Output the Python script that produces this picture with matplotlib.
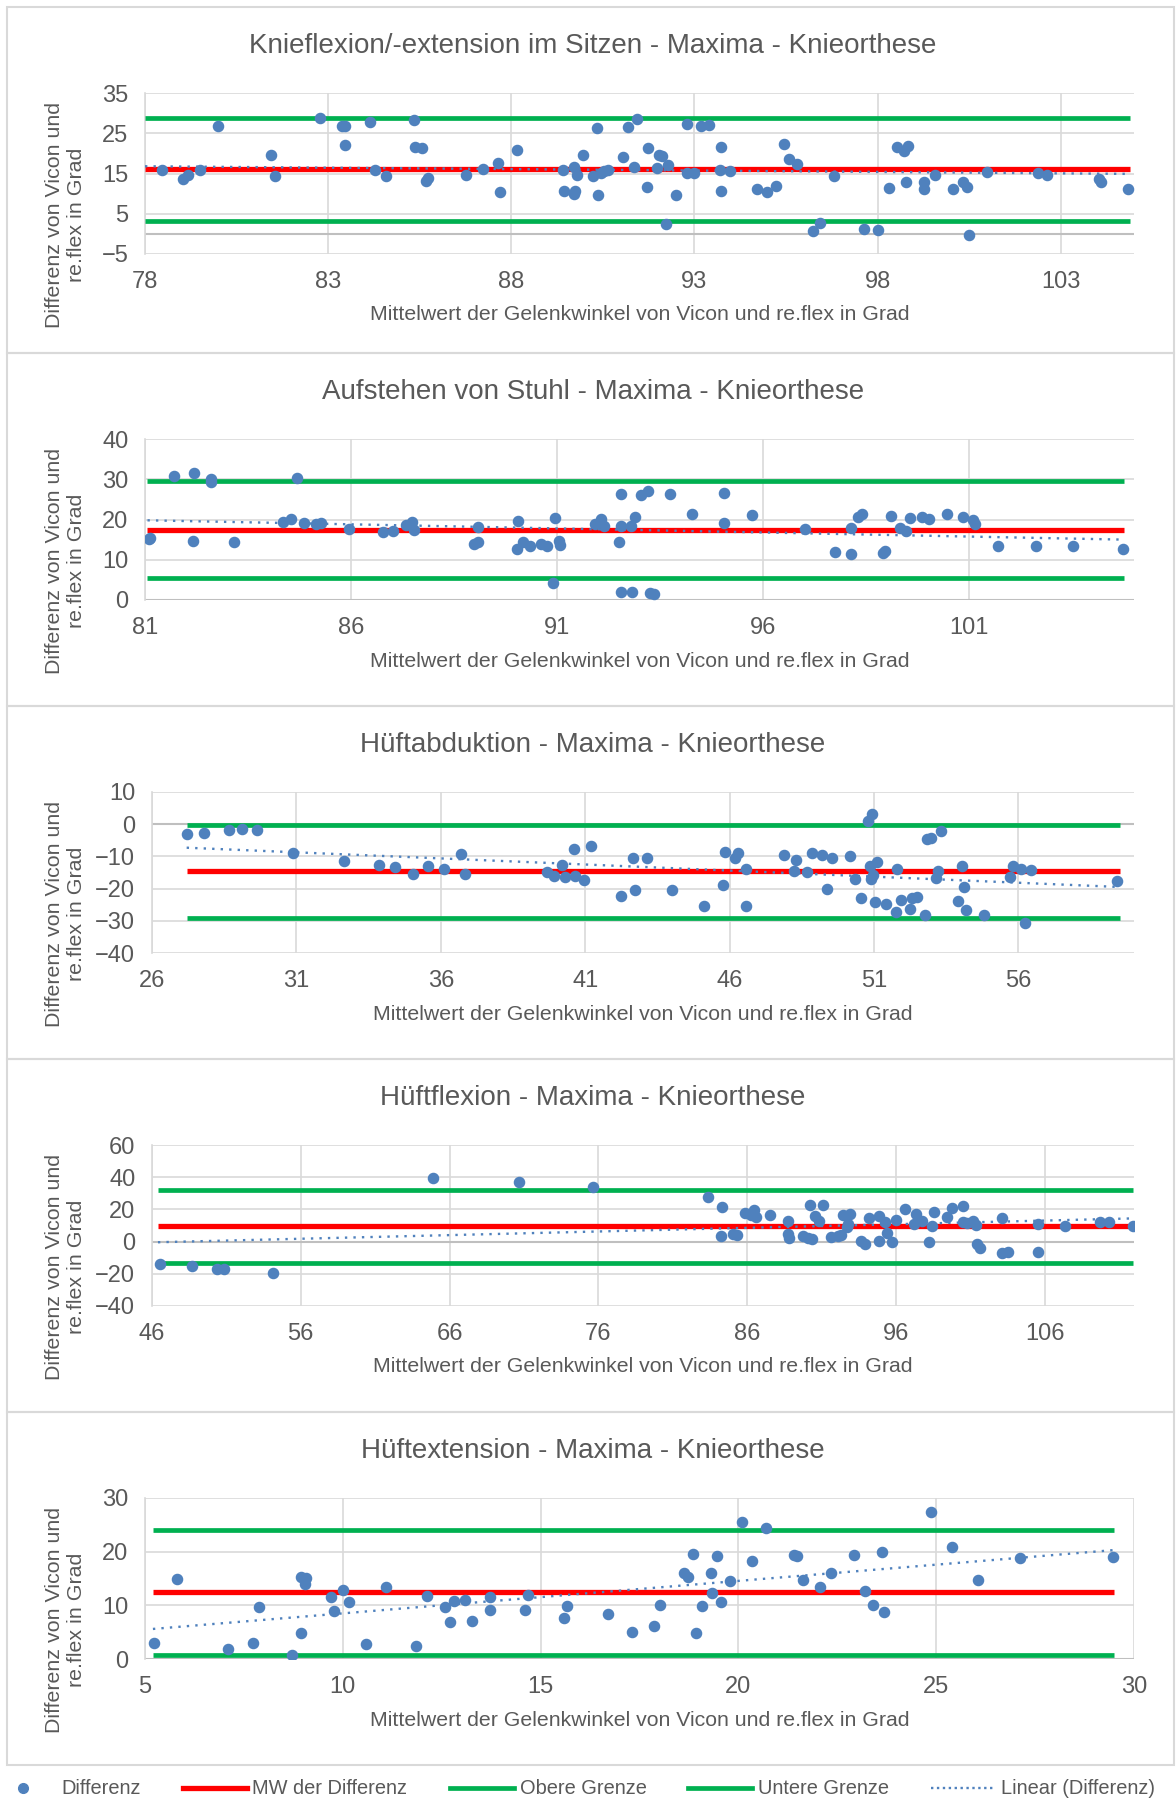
import numpy as np
import matplotlib
matplotlib.use('Agg')
import matplotlib.pyplot as plt
from matplotlib.lines import Line2D
from matplotlib.patches import Rectangle

plt.rcParams['font.family'] = ['Liberation Sans', 'DejaVu Sans']

# --- Daten ---
# Knieflexion/-extension im Sitzen
knie_x = [78.47, 79.03, 79.17, 79.50, 79.99, 81.44, 81.55, 82.77, 83.38, 83.47,
          83.45, 84.14, 84.29, 84.59, 85.34, 85.38, 85.55, 85.67, 85.73, 86.76,
          87.23, 87.63, 87.70, 88.16, 89.42, 89.43, 89.70, 89.73, 89.71, 89.80,
          89.96, 90.24, 90.34, 90.36, 90.45, 90.53, 90.64, 91.06, 91.18, 91.34,
          91.44, 91.71, 91.74, 91.99, 92.02, 92.11, 92.23, 92.27, 92.51, 92.79,
          92.81, 92.98, 93.19, 93.40, 93.70, 93.73, 93.73, 93.96, 94.71, 94.99,
          95.22, 95.45, 95.59, 95.80, 96.25, 96.44, 96.81, 97.62, 98.02, 98.31,
          98.52, 98.73, 98.84, 98.77, 99.26, 99.26, 99.56, 100.06, 100.34, 100.45,
          100.50, 100.99, 102.39, 102.63, 104.05, 104.10, 104.84]
knie_y = [15.8, 13.6, 14.6, 15.8, 26.8, 19.5, 14.5, 28.7, 26.7, 26.75,
          22.0, 27.75, 15.9, 14.5, 28.25, 21.7, 21.4, 13.2, 13.9, 14.75,
          16.2, 17.6, 10.5, 20.75, 15.75, 10.75, 16.7, 10.6, 9.8, 14.75,
          19.7, 14.4, 26.25, 9.6, 15.1, 15.5, 15.8, 19.0, 26.5, 16.6,
          28.6, 11.6, 21.25, 16.25, 19.7, 19.25, 2.5, 17.1, 9.7, 27.3,
          15.1, 15.1, 26.7, 27.1, 15.75, 21.5, 10.6, 15.6, 11.25, 10.4,
          12.0, 22.3, 18.5, 17.3, 0.67, 2.6, 14.3, 1.3, 1.0, 11.4,
          21.6, 20.5, 21.9, 13.0, 12.8, 11.2, 14.7, 11.1, 13.0, 11.7,
          -0.2, 15.25, 15.1, 14.75, 13.75, 13.0, 11.1]

# Aufstehen von Stuhl
stuhl_x = [81.09, 81.12, 81.70, 82.20, 82.17, 82.59, 82.59, 83.16, 84.36, 84.54,
           84.70, 84.87, 85.16, 85.26, 85.94, 86.78, 87.01, 87.34, 87.48, 87.53,
           88.99, 89.07, 89.07, 90.03, 90.04, 90.17, 90.34, 90.62, 90.76, 90.91,
           90.95, 91.04, 91.07, 91.92, 92.06, 92.13, 92.50, 92.55, 92.56, 92.56,
           92.81, 92.80, 92.90, 93.04, 93.20, 93.25, 93.36, 93.74, 94.27, 95.05,
           95.06, 95.74, 97.02, 97.75, 98.14, 98.14, 98.30, 98.41, 98.90, 98.95,
           99.11, 99.32, 99.46, 99.57, 99.86, 100.02, 100.46, 100.84, 101.09, 101.14,
           101.70, 102.62, 103.52, 104.73]
stuhl_y = [15.1, 15.5, 30.9, 31.6, 14.7, 30.0, 29.2, 14.4, 19.5, 20.1,
           30.2, 19.1, 19.0, 19.25, 17.75, 17.0, 17.2, 18.6, 19.4, 17.3,
           13.9, 14.35, 18.2, 12.6, 19.7, 14.3, 13.45, 14.0, 13.45, 4.1,
           20.25, 14.6, 13.6, 18.8, 20.1, 18.4, 14.5, 2.0, 26.3, 18.4,
           2.1, 18.4, 20.6, 26.2, 27.1, 1.8, 1.5, 26.4, 21.25, 26.6,
           19.1, 21.1, 17.7, 12.0, 11.45, 17.8, 20.7, 21.25, 11.8, 12.1,
           20.75, 17.8, 17.1, 20.3, 20.5, 20.1, 21.3, 20.7, 19.8, 18.8,
           13.45, 13.4, 13.4, 12.7]

# Hueftabduktion
abd_x = [27.21, 27.81, 28.65, 29.11, 29.64, 30.89, 32.66, 33.87, 34.40, 35.02,
         35.55, 36.10, 36.69, 36.85, 39.69, 39.91, 40.20, 40.31, 40.62, 40.66,
         40.97, 41.21, 42.25, 42.64, 42.73, 43.13, 43.99, 45.11, 45.78, 45.84,
         46.20, 46.28, 46.55, 46.55, 47.87, 48.22, 48.29, 48.69, 48.86, 49.21,
         49.37, 49.54, 50.16, 50.34, 50.56, 50.80, 50.91, 50.93, 50.87, 50.98,
         51.04, 51.09, 51.42, 51.77, 51.80, 51.95, 52.24, 52.32, 52.48, 52.76,
         52.85, 52.98, 53.16, 53.23, 53.31, 53.89, 54.04, 54.11, 54.18, 54.82,
         55.72, 55.81, 56.09, 56.22, 56.42, 59.42]
abd_y = [-3.0, -2.6, -1.9, -1.5, -1.7, -8.9, -11.4, -12.8, -13.2, -15.4,
         -13.0, -13.8, -9.25, -15.4, -14.8, -16.1, -12.6, -16.3, -7.8, -16.2,
         -17.3, -6.8, -22.3, -10.4, -20.3, -10.6, -20.3, -25.5, -18.8, -8.7,
         -10.4, -8.8, -13.8, -25.5, -9.5, -14.6, -11.1, -14.9, -8.8, -9.7,
         -20.2, -10.6, -9.9, -16.9, -23.0, 0.9, -16.9, 3.1, -13.1, -15.9,
         -24.3, -11.8, -24.9, -27.4, -13.8, -23.6, -26.4, -23.0, -22.5, -28.1,
         -4.5, -4.3, -16.6, -14.6, -2.1, -24.0, -13.1, -19.5, -26.6, -28.3,
         -16.4, -13.1, -14.0, -30.8, -14.3, -17.7]

# Hueftflexion
hflex_x = [46.56, 48.67, 50.35, 50.87, 54.10, 64.91, 70.68, 75.67, 83.34, 84.33,
           84.24, 85.02, 85.32, 85.88, 86.23, 86.49, 86.61, 87.56, 88.72, 88.72,
           88.81, 89.76, 90.10, 90.36, 90.23, 90.58, 90.83, 91.09, 91.65, 92.12,
           92.34, 92.47, 92.69, 92.94, 92.77, 93.68, 93.90, 94.21, 94.85, 94.85,
           95.24, 95.37, 95.71, 96.01, 96.62, 97.22, 97.35, 97.78, 98.21, 98.43,
           98.56, 99.42, 99.77, 100.50, 100.50, 100.76, 101.19, 101.36, 101.45, 101.67,
           103.15, 103.15, 103.53, 105.56, 105.56, 107.37, 109.74, 110.35, 111.90]
hflex_y = [-13.8, -15.3, -16.9, -17.1, -19.4, 39.6, 37.1, 33.8, 27.8, 21.4,
           3.3, 4.95, 4.3, 17.7, 16.5, 19.8, 15.05, 16.5, 12.8, 4.95,
           2.3, 3.7, 2.5, 1.65, 22.9, 15.7, 12.8, 22.9, 2.9, 3.7,
           4.1, 16.3, 9.1, 17.3, 11.1, 0.2, -1.4, 14.4, 15.7, 0.6,
           12.2, 5.4, -0.4, 13.6, 20.0, 11.1, 17.0, 13.0, -0.4, 9.9,
           18.6, 15.3, 21.0, 21.9, 12.4, 11.5, 12.6, 10.3, -1.4, -3.9,
           14.4, -7.0, -6.2, -6.6, 11.1, 9.9, 12.4, 12.0, 9.7]

# Hueftextension
hext_x = [5.23, 5.80, 7.09, 7.73, 7.88, 8.71, 8.95, 8.95, 9.08, 9.05,
          9.71, 9.79, 10.00, 10.16, 10.58, 11.08, 11.85, 12.12, 12.59, 12.72,
          12.80, 13.09, 13.26, 13.73, 13.73, 14.61, 14.69, 15.59, 15.66, 16.70,
          17.32, 17.86, 18.02, 18.62, 18.73, 18.84, 18.92, 19.08, 19.34, 19.32,
          19.47, 19.55, 19.79, 20.08, 20.34, 20.71, 21.40, 21.48, 21.64, 22.06,
          22.35, 22.91, 23.20, 23.41, 23.62, 23.67, 24.86, 25.39, 26.05, 27.12,
          29.47]
hext_y = [2.9, 14.9, 1.8, 3.0, 9.65, 0.75, 4.8, 15.2, 15.15, 13.9,
          11.6, 8.9, 12.8, 10.6, 2.8, 13.4, 2.4, 11.8, 9.7, 6.9,
          10.9, 11.0, 7.1, 9.2, 11.6, 9.1, 12.0, 7.6, 9.8, 8.4,
          5.0, 6.1, 10.1, 16.1, 15.3, 19.6, 4.9, 9.9, 12.3, 16.0,
          19.1, 10.6, 14.5, 25.55, 18.3, 24.4, 19.4, 19.2, 14.7, 13.4,
          16.1, 19.3, 12.75, 10.1, 19.9, 8.7, 27.3, 20.9, 14.8, 18.9,
          19.0]

titel = ['Knieflexion/-extension im Sitzen - Maxima - Knieorthese',
         'Aufstehen von Stuhl - Maxima - Knieorthese',
         'Hüftabduktion - Maxima - Knieorthese',
         'Hüftflexion - Maxima - Knieorthese',
         'Hüftextension - Maxima - Knieorthese']
x_daten = [knie_x, stuhl_x, abd_x, hflex_x, hext_x]
y_daten = [knie_y, stuhl_y, abd_y, hflex_y, hext_y]

# Mittelwert der Differenz und Grenzen
mw = [16.0, 17.5, -14.6, 9.5, 12.45]
obere = [28.75, 29.6, -0.2, 32.2, 24.1]
untere = [3.25, 5.4, -29.0, -13.2, 0.8]
linie_von = [78.0, 81.06, 27.2, 46.4, 5.2]
linie_bis = [104.9, 104.76, 59.5, 111.9, 29.5]
# Linear (Differenz): Werte am Anfang/Ende der Trendlinie
trend_von = [16.8, 19.8, -7.3, -0.4, 5.6]
trend_bis = [14.9, 15.0, -19.5, 14.4, 20.3]

x_grenzen = [(78, 105), (81, 105), (26, 60), (46, 112), (5, 30)]
x_ticks = [np.arange(78, 104, 5), np.arange(81, 102, 5), np.arange(26, 57, 5),
           np.arange(46, 107, 10), np.arange(5, 31, 5)]
y_grenzen = [(-5, 35), (0, 40), (-40, 10), (-40, 60), (0, 30)]
y_ticks = [np.arange(-5, 36, 10), np.arange(0, 41, 10), np.arange(-40, 11, 10),
           np.arange(-40, 61, 20), np.arange(0, 31, 10)]

# --- Layout in Pixeln ---
W, H = 1176, 1798
panel_oben = [7, 353, 706, 1059, 1412]
panel_unten = 1765
links = [145, 145, 152, 152, 145]
rechts = 1134

blau = '#4F81BD'
rot = '#FF0000'
gruen = '#00B050'
grau = '#595959'

fig = plt.figure(figsize=(W / 100, H / 100), dpi=100)

for i in range(5):
    T = panel_oben[i]
    B = panel_oben[i + 1] if i < 4 else panel_unten
    # Rahmen des Diagramms
    fig.add_artist(Rectangle((7 / W, 1 - B / H), (1174 - 7) / W, (B - T) / H,
                             transform=fig.transFigure, fill=False,
                             edgecolor='#D9D9D9', lw=1.5))

    L = links[i]
    ax = fig.add_axes([L / W, 1 - (T + 247) / H, (rechts - L) / W, 161 / H])
    x = np.array(x_daten[i])
    y = np.array(y_daten[i])

    ax.set_xlim(*x_grenzen[i])
    ax.set_ylim(*y_grenzen[i])
    ax.set_xticks(x_ticks[i])
    ax.set_yticks(y_ticks[i])
    ax.grid(True, color='#D9D9D9', lw=1.2)
    ax.set_axisbelow(True)
    for s in ['top', 'right', 'bottom']:
        ax.spines[s].set_visible(False)
    ax.spines['left'].set_color('#D9D9D9')
    ax.spines['left'].set_linewidth(1.2)
    ax.axhline(0, color='#BFBFBF', lw=1.5, zorder=1)
    ax.tick_params(length=0, labelsize=17, labelcolor=grau)
    ax.tick_params(axis='x', pad=12)
    ax.tick_params(axis='y', pad=12)

    xs = [linie_von[i], linie_bis[i]]
    ax.plot(xs, [mw[i]] * 2, color=rot, lw=3.8, solid_capstyle='butt', zorder=3)
    ax.plot(xs, [obere[i]] * 2, color=gruen, lw=3.4, solid_capstyle='butt', zorder=3)
    ax.plot(xs, [untere[i]] * 2, color=gruen, lw=3.4, solid_capstyle='butt', zorder=3)

    # lineare Trendlinie
    ax.plot(xs, [trend_von[i], trend_bis[i]], color=blau, lw=1.7,
            ls=(0, (1, 2.6)), zorder=4)

    ax.plot(x, y, 'o', color=blau, markersize=7.3, zorder=5)

    fig.text(593 / W, 1 - (T + 39) / H, titel[i], ha='center', va='center',
             fontsize=20, color=grau)
    fig.text((L + rechts) / 2 / W, 1 - (T + 308) / H,
             'Mittelwert der Gelenkwinkel von Vicon und re.flex in Grad',
             ha='center', va='center', fontsize=15.3, color=grau)
    fig.text(66 / W, 1 - (T + 208) / H, 'Differenz von Vicon und\nre.flex in Grad',
             rotation=90, ha='center', va='center', multialignment='center',
             fontsize=15.4, color=grau, linespacing=1.2)

griffe = [Line2D([], [], marker='o', ls='none', color=blau, markersize=7),
          Line2D([], [], color=rot, lw=3.8),
          Line2D([], [], color=gruen, lw=3.4),
          Line2D([], [], color=gruen, lw=3.4),
          Line2D([], [], color=blau, lw=1.7, ls=(0, (1, 1.5)))]
namen = ['Differenz', 'MW der Differenz', 'Obere Grenze', 'Untere Grenze',
         'Linear (Differenz)']
leg = fig.legend(griffe, namen, loc='center left', ncol=5, frameon=False,
                 bbox_to_anchor=(-9 / W, 1 - 1789 / H), fontsize=14.4,
                 handlelength=3.2, handletextpad=0.3, columnspacing=2.1,
                 borderpad=0, borderaxespad=0)
for t in leg.get_texts():
    t.set_color(grau)

fig.savefig('out.png', dpi=100)
